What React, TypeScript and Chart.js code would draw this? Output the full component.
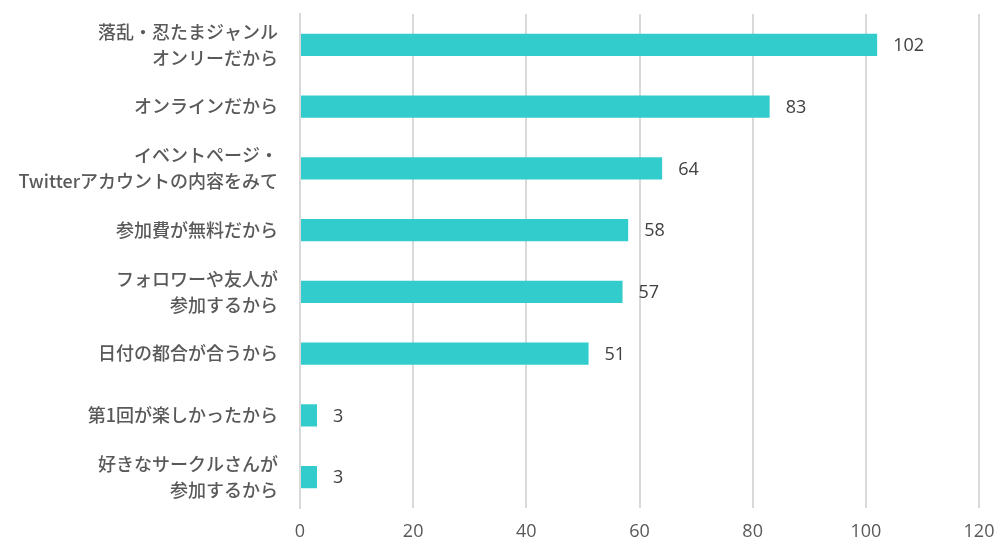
import React, { useEffect, useRef } from "react";
import { Chart, registerables } from "chart.js";

Chart.register(...registerables);

const categories: string[][] = [
  ["落乱・忍たまジャンル", "オンリーだから"],
  ["オンラインだから"],
  ["イベントページ・", "Twitterアカウントの内容をみて"],
  ["参加費が無料だから"],
  ["フォロワーや友人が", "参加するから"],
  ["日付の都合が合うから"],
  ["第1回が楽しかったから"],
  ["好きなサークルさんが", "参加するから"],
];
const values: number[] = [102, 83, 64, 58, 57, 51, 3, 3];
const xTicks = { min: 0, max: 120, step: 20 };

const valueLabels = {
  id: "valueLabels",
  afterDatasetsDraw(chart: any) {
    const ctx = chart.ctx;
    const meta = chart.getDatasetMeta(0);
    ctx.save();
    ctx.font = "18px 'Open Sans', 'Liberation Sans', sans-serif";
    ctx.fillStyle = "#404040";
    ctx.textAlign = "left";
    ctx.textBaseline = "middle";
    meta.data.forEach((bar: any, i: number) => {
      ctx.fillText(String(values[i]), bar.x + 16, bar.y + 1);
    });
    ctx.restore();
  },
};

export default function App() {
  const ref = useRef<HTMLCanvasElement>(null);
  useEffect(() => {
    const chart = new Chart(ref.current!, {
      type: "bar",
      data: {
        labels: categories,
        datasets: [
          {
            data: values,
            backgroundColor: "#33CCCC",
            barPercentage: 0.36,
            categoryPercentage: 1,
          },
        ],
      },
      options: {
        indexAxis: "y",
        animation: false,
        responsive: false,
        layout: { padding: { top: 14, right: 27, bottom: 0, left: 0 } },
        plugins: { legend: { display: false }, tooltip: { enabled: false } },
        scales: {
          x: {
            min: xTicks.min,
            max: xTicks.max,
            ticks: {
              stepSize: xTicks.step,
              color: "#595959",
              font: { size: 18, family: "'Open Sans', sans-serif" },
              padding: 13,
            },
            grid: { color: "#D9D9D9", lineWidth: 2, drawTicks: false },
            border: { display: false },
            afterFit(scale: any) {
              scale.paddingLeft = 0;
              scale.paddingRight = 0;
              scale.height = 47;
            },
          },
          y: {
            ticks: {
              color: "#595959",
              font: { size: 18, family: "'Noto Sans CJK JP', sans-serif", weight: 500, lineHeight: 1.45 },
              padding: 22,
            },
            grid: { display: false, drawTicks: false },
            border: { color: "#D9D9D9", width: 2 },
            afterFit(scale: any) {
              scale.width = 300;
              scale.paddingTop = 0;
              scale.paddingBottom = 0;
            },
          },
        },
      },
      plugins: [valueLabels],
    });
    return () => chart.destroy();
  }, []);
  return (
    <div style={{ position: "fixed", left: 0, top: 0, width: 1006, height: 555, background: "#fff" }}>
      <canvas ref={ref} width={1006} height={555} style={{ width: 1006, height: 555 }} />
    </div>
  );
}
